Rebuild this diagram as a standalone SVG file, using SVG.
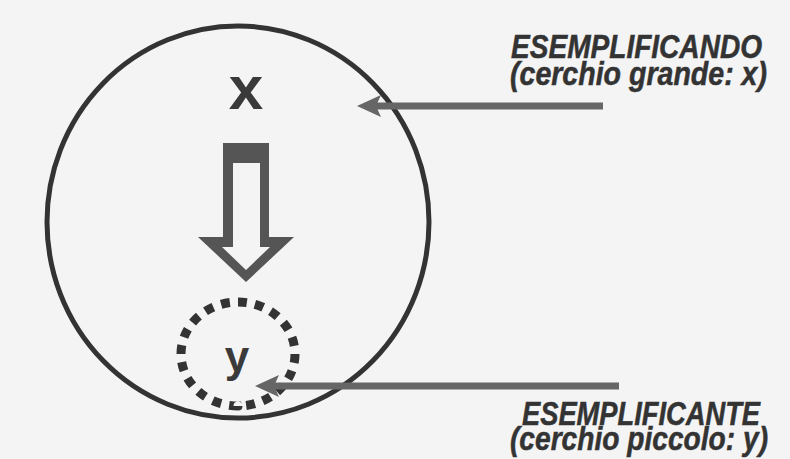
<svg xmlns="http://www.w3.org/2000/svg" width="790" height="459" viewBox="0 0 790 459">
<style>
.lbl{font-family:"Liberation Sans",Arial,sans-serif;font-weight:bold;font-style:italic;font-size:33px;fill:#333;stroke:#333;stroke-width:0.5}
.var{font-family:"Liberation Sans",Arial,sans-serif;fill:#3a3a3a;text-anchor:middle;font-weight:bold}
.ptr{stroke:#666;stroke-width:7;fill:none}
</style>
<rect width="790" height="459" fill="#f4f4f4"/>
<g id="cerchio-grande">
<ellipse cx="238" cy="222" rx="191" ry="196" fill="none" stroke="#333" stroke-width="5"/>
<text class="var" x="246" y="109" font-size="62">x</text>
</g>
<g id="freccia-blocco">
<path d="M223,143 H269 V237 H294 L246,282 L198,237 H223 Z M233,163 H260 V247 H270 L246,270 L222,247 H233 Z" fill="#555" fill-rule="evenodd"/>
</g>
<g id="cerchio-piccolo">
<ellipse cx="238" cy="354" rx="57" ry="52" fill="none" stroke="#333" stroke-width="9" pathLength="20" stroke-dasharray="0.52 0.48"/>
<text class="var" x="237" y="372" font-size="44">y</text>
</g>
<g id="etichetta-esemplificando">
<text class="lbl" x="511" y="58" textLength="251" lengthAdjust="spacingAndGlyphs">ESEMPLIFICANDO</text>
<text class="lbl" x="510" y="85" textLength="257" lengthAdjust="spacingAndGlyphs">(cerchio grande: x)</text>
</g>
<g id="etichetta-esemplificante">
<text class="lbl" x="522" y="425" textLength="238" lengthAdjust="spacingAndGlyphs">ESEMPLIFICANTE</text>
<text class="lbl" x="510" y="450" textLength="258" lengthAdjust="spacingAndGlyphs">(cerchio piccolo: y)</text>
</g>
<g id="connettori">
<line class="ptr" x1="603" y1="106" x2="376" y2="106"/>
<path d="M357,106 L381,95 L376,106 L381,117 Z" fill="#666"/>
<line class="ptr" x1="619" y1="386" x2="274" y2="386"/>
<path d="M255,386 L279,375 L274,386 L279,397 Z" fill="#666"/>
</g>
</svg>
